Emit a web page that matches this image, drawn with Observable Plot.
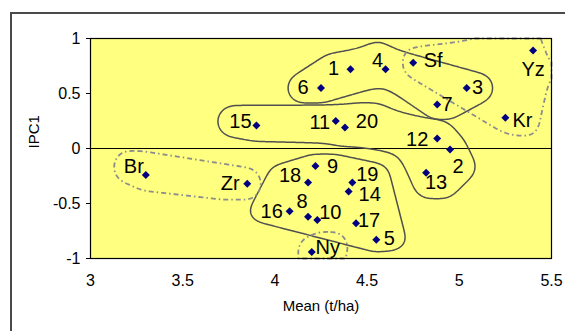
<!DOCTYPE html>
<html>
<head>
<meta charset="utf-8">
<script src="https://cdn.jsdelivr.net/npm/d3@7"></script>
<script src="https://cdn.jsdelivr.net/npm/@observablehq/plot@0.6"></script>
<style>
  html, body { margin: 0; padding: 0; background: white; overflow: hidden; }
  #outer { position: absolute; left: 10px; top: 12px; width: 800px; height: 600px;
           border-top: 2px solid #4a4a4a; border-left: 2px solid #4a4a4a; }
  #chart { position: absolute; left: 0; top: 0; }
</style>
</head>
<body>
<div id="outer"></div>
<div id="chart"></div>
<script>
// ---- data ----
const names = ["1","2","3","4","5","6","7","8","9","10","11","12","13","14","15","16","17","18","19","20","Sf","Yz","Kr","Br","Zr","Ny"];
const means = [4.41,4.95,5.04,4.60,4.55,4.25,4.88,4.18,4.22,4.23,4.33,4.88,4.82,4.40,3.90,4.08,4.44,4.18,4.42,4.38,4.75,5.40,5.25,3.30,3.85,4.20];
const ipc1  = [0.72,-0.01,0.55,0.72,-0.83,0.55,0.40,-0.62,-0.16,-0.65,0.25,0.09,-0.22,-0.39,0.21,-0.57,-0.68,-0.31,-0.31,0.19,0.78,0.89,0.28,-0.24,-0.32,-0.94];
const xTicks = [3, 3.5, 4, 4.5, 5, 5.5];
const yTicks = [-1, -0.5, 0, 0.5, 1];
// group memberships (each group = list of sub-clusters)
const groupSolidA = [["6","1","4"], ["4","7","3"]];
const groupSolidB = [["15","11","20"], ["20","12"], ["12","2","13"]];
const groupSolidC = [["9","18","19","14","16","8","10","17","5"]];
const groupDashSf = [["Sf","Yz","Kr"]];
const groupDashBr = [["Br","Zr"]];
const groupDashNy = [["Ny"]];

// ---- layout / style ----
const W = 565, H = 331, mL = 90, mR = 14, mT = 38, mB = 73;
const labelFont = 20;
const kx = (W - mL - mR) / (5.5 - 3), ky = (H - mT - mB) / 2;
const labelOffset = {
  "1":[-17,-1],"2":[8,17],"3":[11,0],"4":[-8,-9],"5":[13,-1],"6":[-18,0],"7":[10,0],"8":[-6,-15],
  "9":[17,0],"10":[13,-7],"11":[-16,2],"12":[-20,1],"13":[10,10],"14":[21,3],"15":[-16,-4],
  "16":[-18,0],"17":[13,-3],"18":[-18,-7],"19":[15,-8],"20":[22,-6],"Sf":[20,-2],"Yz":[0,19],
  "Kr":[17,3],"Br":[-12,-8],"Zr":[-17,0],"Ny":[16,-4]
};
const points = names.map((n, i) => ({name: n, x: means[i], y: ipc1[i]}));
const idx = Object.fromEntries(names.map((n, i) => [n, i]));
const px = x => (x - 3) * kx;
const py = y => (1 - y) * ky;

function segDist(u, v, a, b) {
  const dx = b[0] - a[0], dy = b[1] - a[1];
  const L = dx * dx + dy * dy;
  let t = L > 0 ? ((u - a[0]) * dx + (v - a[1]) * dy) / L : 0;
  t = Math.max(0, Math.min(1, t));
  const ex = u - (a[0] + t * dx), ey = v - (a[1] + t * dy);
  return Math.sqrt(ex * ex + ey * ey);
}

function makeField(group, rx, ry, k = 0.25) {
  const parts = group.map(list => {
    const nodes = [];
    for (const n of list) {
      const i = idx[n];
      const p = [px(means[i]), py(ipc1[i])];
      nodes.push(p);
      const [ox, oy] = labelOffset[n];
      const hw = Math.max(0, n.length * 0.56 * labelFont / 2 - 5);
      nodes.push([p[0] + ox - hw, p[1] + oy], [p[0] + ox + hw, p[1] + oy]);
    }
    const nn = nodes.map(([a, b]) => [a / rx, b / ry]);
    const hull = d3.polygonHull(nn);
    let edges = [];
    if (hull && hull.length >= 3) {
      for (let j = 0; j < hull.length; j++) edges.push([hull[j], hull[(j + 1) % hull.length]]);
    } else {
      for (let a = 0; a < nn.length; a++) for (let b = a; b < nn.length; b++) edges.push([nn[a], nn[b]]);
    }
    return {hull: hull && hull.length >= 3 ? hull : null, edges};
  });
  return (x, y) => {
    const u = px(x) / rx, v = py(y) / ry;
    let s = 0;
    for (const part of parts) {
      let d;
      if (part.hull && d3.polygonContains(part.hull, [u, v])) d = 0;
      else {
        d = Infinity;
        for (const [a, b] of part.edges) { const e = segDist(u, v, a, b); if (e < d) d = e; }
      }
      s += Math.exp(-d / k);
    }
    return s > 0 ? Math.max(-3, 1 + k * Math.log(s)) : -3;
  };
}

const solidStyle = {stroke: "#505050", strokeWidth: 1.5};
const dashStyle = {stroke: "#8c8c8c", strokeWidth: 1.8, strokeDasharray: "5,3,1.5,3"};
function outline(group, rx, ry, style) {
  return Plot.contour({
    x1: 3, x2: 5.5, y1: -1, y2: 1,
    value: makeField(group, rx, ry),
    thresholds: [0], pixelSize: 1, blur: 4,
    fill: "none", ...style
  });
}

const textMarks = points.map(d => Plot.text([d], {
  x: "x", y: "y", text: "name",
  dx: labelOffset[d.name][0], dy: labelOffset[d.name][1],
  fontSize: labelFont, fill: "black", textAnchor: "middle", lineAnchor: "middle"
}));

const chart = Plot.plot({
  width: W, height: H,
  marginLeft: mL, marginRight: mR, marginTop: mT, marginBottom: mB,
  style: {fontFamily: "'Liberation Sans', Arial, sans-serif", fontSize: "16px", background: "transparent", color: "black"},
  x: {domain: [3, 5.5]},
  y: {domain: [-1, 1]},
  marks: [
    Plot.frame({fill: "#ffff80", stroke: null}),
    Plot.ruleY([0], {stroke: "black", strokeWidth: 1.2}),
    outline(groupSolidA, 15, 15, solidStyle),
    outline(groupSolidB, 17, 16, solidStyle),
    outline(groupSolidC, 16, 12, solidStyle),
    outline(groupDashSf, 11, 15, dashStyle),
    outline(groupDashBr, 14, 16, dashStyle),
    outline(groupDashNy, 14, 16, dashStyle),
    Plot.dot(points, {x: "x", y: "y", symbol: "diamond2", r: 3.6, fill: "#000080", stroke: null}),
    ...textMarks,
    Plot.frame({stroke: "black", strokeWidth: 1.2}),
    Plot.axisY({ticks: yTicks, tickSize: 4, tickPadding: 6, tickFormat: d => String(d), label: null, fontSize: 16}),
    Plot.axisX({ticks: xTicks, tickSize: 0, tickPadding: 16, tickFormat: d => String(d), label: null, fontSize: 16}),
    Plot.text(["Mean (t/ha)"], {frameAnchor: "bottom", dy: 52, fontSize: 15, fill: "black"}),
    Plot.text(["IPC1"], {frameAnchor: "left", dx: -56, rotate: -90, fontSize: 15, fill: "black"})
  ]
});
document.getElementById("chart").appendChild(chart);
</script>
</body>
</html>
